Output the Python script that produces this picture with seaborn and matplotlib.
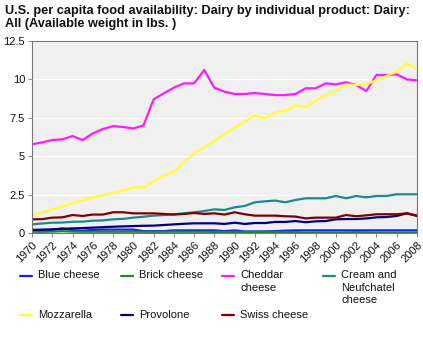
import numpy as np
import pandas as pd
import matplotlib
matplotlib.use("Agg")
import matplotlib.pyplot as plt
from matplotlib.lines import Line2D
import seaborn as sns

years = list(range(1970, 2009))

blue_cheese = [0.15, 0.17, 0.20, 0.30, 0.18, 0.15, 0.20, 0.22, 0.22, 0.22, 0.22, 0.12, 0.12, 0.12,
               0.17, 0.17, 0.17, 0.17, 0.17, 0.12, 0.17, 0.10, 0.10, 0.10, 0.12, 0.15, 0.17, 0.17,
               0.17, 0.17, 0.17, 0.17, 0.17, 0.17, 0.17, 0.17, 0.17, 0.17, 0.17]
brick_cheese = [0.08, 0.08, 0.09, 0.12, 0.09, 0.08, 0.08, 0.08, 0.08, 0.08, 0.08, 0.08, 0.08, 0.08,
                0.08, 0.08, 0.08, 0.08, 0.07, 0.07, 0.07, 0.07, 0.07, 0.07, 0.07, 0.06, 0.06, 0.02,
                0.02, 0.02, 0.02, 0.03, 0.05, 0.04, 0.02, 0.02, 0.02, 0.02, 0.02]
cheddar = [5.77, 5.90, 6.05, 6.10, 6.31, 6.05, 6.49, 6.77, 6.96, 6.90, 6.81, 7.00, 8.70, 9.09,
           9.46, 9.74, 9.74, 10.61, 9.46, 9.20, 9.05, 9.05, 9.11, 9.05, 8.98, 8.98, 9.05, 9.42,
           9.42, 9.74, 9.68, 9.81, 9.63, 9.24, 10.29, 10.29, 10.33, 10.00, 9.94]
cream_neufchatel = [0.56, 0.62, 0.67, 0.68, 0.73, 0.74, 0.80, 0.82, 0.89, 0.92, 1.00, 1.06, 1.13, 1.17,
                    1.22, 1.28, 1.35, 1.43, 1.54, 1.50, 1.67, 1.76, 2.00, 2.06, 2.11, 2.00, 2.15, 2.26,
                    2.26, 2.26, 2.41, 2.26, 2.41, 2.32, 2.41, 2.41, 2.52, 2.52, 2.52]
mozzarella = [1.17, 1.35, 1.54, 1.72, 1.93, 2.15, 2.32, 2.45, 2.63, 2.76, 2.97, 2.97, 3.34, 3.71,
              4.00, 4.58, 5.19, 5.58, 6.00, 6.42, 6.86, 7.25, 7.66, 7.47, 7.86, 7.94, 8.31, 8.18,
              8.59, 8.98, 9.27, 9.68, 9.63, 9.68, 9.96, 10.22, 10.50, 11.05, 10.66]
provolone = [0.20, 0.22, 0.24, 0.27, 0.30, 0.32, 0.35, 0.38, 0.41, 0.43, 0.45, 0.47, 0.48, 0.52,
             0.56, 0.60, 0.63, 0.63, 0.63, 0.59, 0.67, 0.59, 0.65, 0.65, 0.72, 0.72, 0.78, 0.70,
             0.76, 0.78, 0.89, 0.91, 0.91, 0.95, 1.02, 1.04, 1.11, 1.28, 1.11]
swiss_cheese = [0.89, 0.90, 1.00, 1.02, 1.17, 1.11, 1.20, 1.20, 1.35, 1.35, 1.28, 1.28, 1.28, 1.24,
                1.20, 1.24, 1.30, 1.24, 1.28, 1.20, 1.35, 1.22, 1.13, 1.13, 1.13, 1.09, 1.07, 0.95,
                1.00, 1.00, 1.00, 1.17, 1.09, 1.15, 1.22, 1.22, 1.22, 1.28, 1.13]

series_names = ["Blue cheese", "Brick cheese", "Cheddar cheese", "Cream and Neufchatel cheese",
                "Mozzarella", "Provolone", "Swiss cheese"]
legend_labels = ["Blue cheese", "Brick cheese", "Cheddar\ncheese", "Cream and\nNeufchatel\ncheese",
                 "Mozzarella", "Provolone", "Swiss cheese"]
colors = ["#1a1aff", "#228b22", "#ff1aff", "#1a8a8a", "#ffff33", "#000080", "#800000"]
y_ticks = [0, 2.5, 5, 7.5, 10, 12.5]
y_tick_labels = ["0", "2.5", "5", "7.5", "10", "12.5"]
x_ticks = list(range(1970, 2009, 2))

title = "U.S. per capita food availability: Dairy by individual product: Dairy:\nAll (Available weight in lbs. )"

values = [blue_cheese, brick_cheese, cheddar, cream_neufchatel, mozzarella, provolone, swiss_cheese]
df = pd.concat([pd.DataFrame({"Year": years, "Value": v, "Product": n})
                for n, v in zip(series_names, values)], ignore_index=True)

sns.set_theme(style="white")
plt.rcParams["font.family"] = ["Liberation Sans", "DejaVu Sans"]

fig = plt.figure(figsize=(4.23, 3.45), dpi=100)
ax = fig.add_axes([32/423, 1 - 233/345, (417-32)/423, (233-41)/345])
ax.set_facecolor("#f0f0f0")

palette = dict(zip(series_names, colors))
sns.lineplot(data=df, x="Year", y="Value", hue="Product", palette=palette,
             hue_order=series_names, linewidth=1.6, ax=ax, legend=False)

ax.set_xlim(1970, 2008)
ax.set_ylim(0, 12.5)
ax.set_yticks(y_ticks)
ax.set_yticklabels(y_tick_labels, fontsize=8)
ax.set_xticks(x_ticks)
ax.set_xticklabels([str(x) for x in x_ticks], rotation=45, ha="right",
                   rotation_mode="anchor", fontsize=8)
ax.grid(axis="y", color="white", linewidth=1)
ax.set_axisbelow(True)
ax.set_xlabel("")
ax.set_ylabel("")
for s in ax.spines.values():
    s.set_color("#777777")
    s.set_linewidth(0.8)
ax.tick_params(axis="both", which="both", length=3, width=0.6, color="#777777",
               pad=2, left=True, bottom=True, labelcolor="#111111")

fig.text(5/423, 1 - 5/345, title, ha="left", va="top", fontsize=9.2,
         fontweight="bold", linespacing=1.15, color="#111111")

# legend laid out in a 4-column grid below the plot
col_x = [20, 121, 222, 323]
row_y = [276, 315]
for i, (lab, col) in enumerate(zip(legend_labels, colors)):
    r, c = divmod(i, 4)
    x0 = col_x[c]
    y0 = row_y[r]
    fig.add_artist(Line2D([x0/423, (x0 + 12)/423], [1 - y0/345, 1 - y0/345],
                          color=col, linewidth=1.6, transform=fig.transFigure))
    fig.text((x0 + 18)/423, 1 - (y0 - 5.5)/345, lab, ha="left", va="top",
             fontsize=8, linespacing=1.3, color="#111111")

fig.savefig("out.png", dpi=100)
